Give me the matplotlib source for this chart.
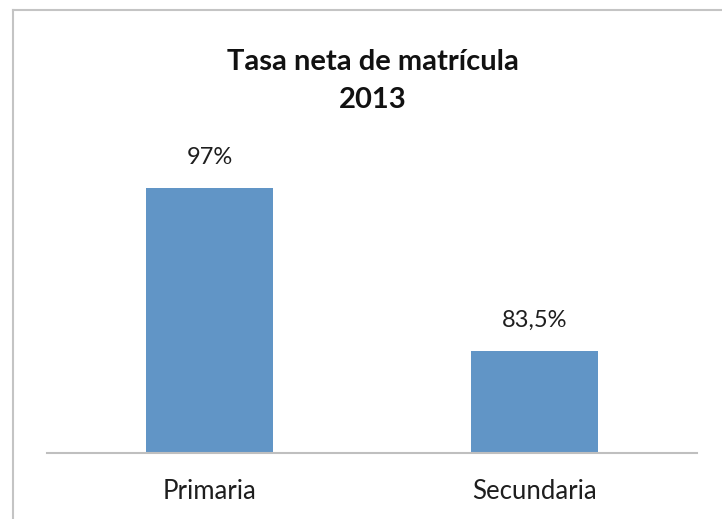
import matplotlib
matplotlib.use("Agg")
import matplotlib.pyplot as plt
from matplotlib.lines import Line2D

categories = ["Primaria", "Secundaria"]
values = [97.0, 83.5]
value_labels = ["97%", "83,5%"]
title_lines = ["Tasa neta de matrícula", "2013"]

plt.rcParams['font.family'] = ['Lato', 'DejaVu Sans']

fig = plt.figure(figsize=(7.22, 5.19), dpi=100)
ax = fig.add_axes([0.065, 0.127, 0.90, 0.58])

x = list(range(len(categories)))
ax.bar(x, values, width=0.39, color='#6195c6')
ax.set_ylim(75, 100)
ax.set_xlim(-0.5, len(categories) - 0.5)

for xi, v, lab in zip(x, values, value_labels):
    ax.annotate(lab, (xi, v), xytext=(0, 22), textcoords='offset points',
                ha='center', va='center', fontsize=17, color='#1e1e1e')

ax.set_xticks(x)
ax.set_xticklabels(categories, fontsize=18.5, color='#1e1e1e')
ax.tick_params(axis='x', length=0, pad=19)
ax.set_yticks([])
for s in ['left', 'right', 'top']:
    ax.spines[s].set_visible(False)
ax.spines['bottom'].set_color('#bfbfbf')
ax.spines['bottom'].set_linewidth(1.5)

fig.text(0.516, 1 - 62/519, title_lines[0], ha='center', va='center', fontsize=21,
         fontweight='bold', color='#111111')
fig.text(0.516, 1 - 100/519, title_lines[1], ha='center', va='center', fontsize=21,
         fontweight='bold', color='#111111')

# outer border (left and top visible)
fig.add_artist(Line2D([13/722, 13/722], [0, 1 - 10/519], transform=fig.transFigure,
                      color='#c4c4c4', linewidth=1.5))
fig.add_artist(Line2D([13/722, 1], [1 - 10/519, 1 - 10/519], transform=fig.transFigure,
                      color='#c4c4c4', linewidth=1.5))

fig.savefig("out.png", dpi=100)
